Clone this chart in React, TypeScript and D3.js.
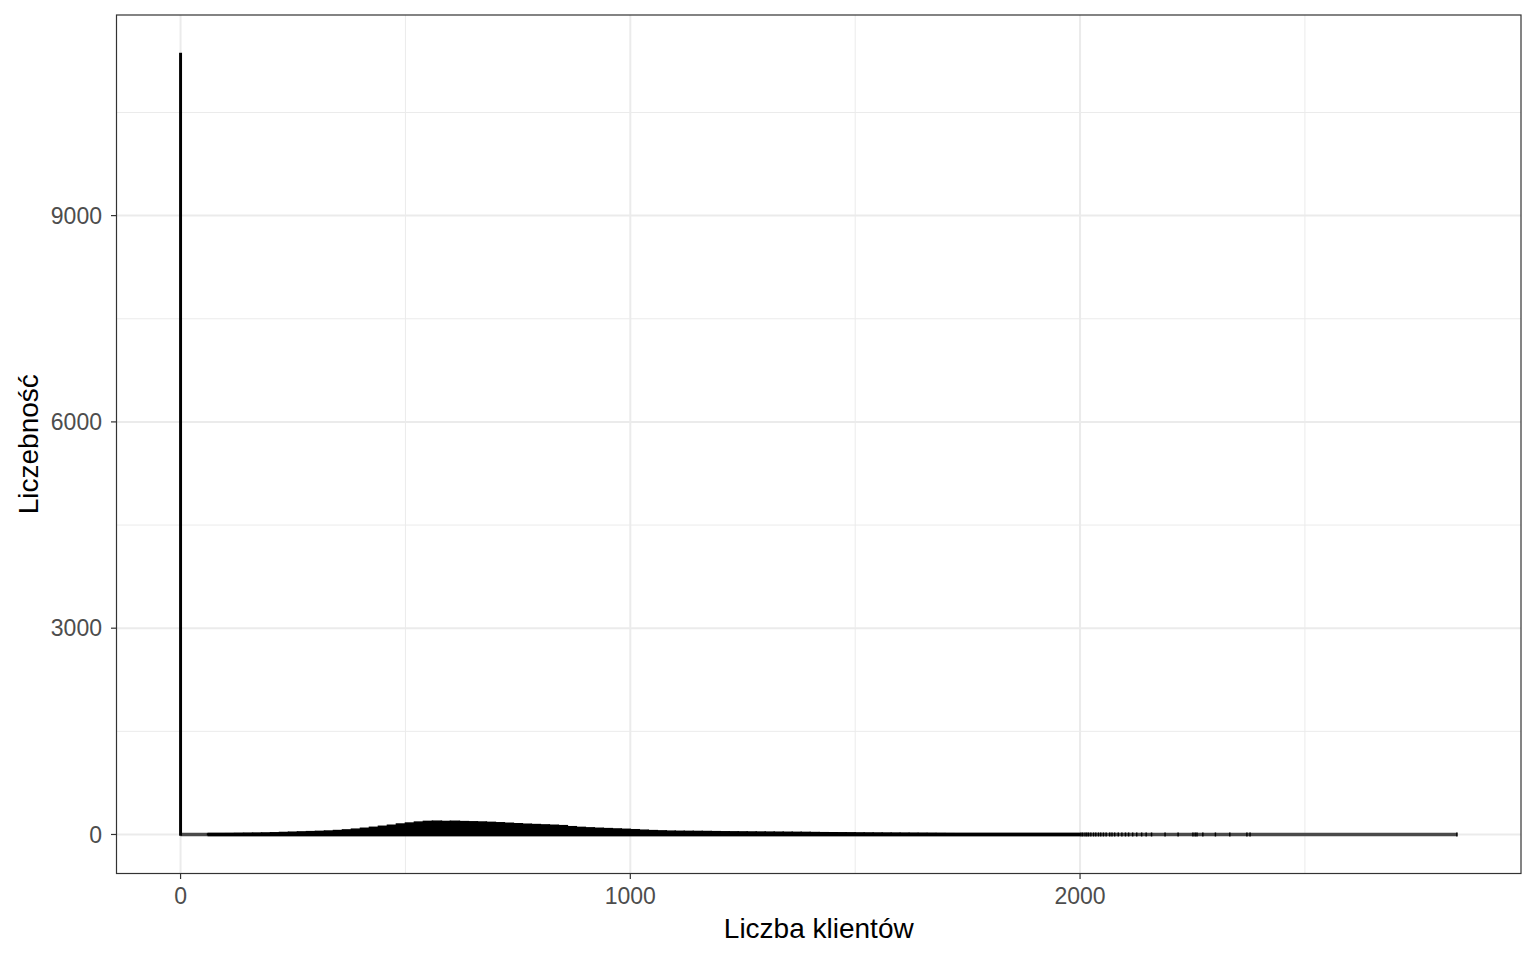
import React from 'react';
import * as d3 from 'd3';

// histogram, 1-unit bins; the dense part is summarised per 20-unit block (count per unit)
const spikeAt = 0;
const spikeCount = 11350;
const blockStart = [
  60, 80, 100, 120, 140, 160, 180, 200, 220, 240, 260, 280, 300, 320, 340, 360, 380, 400, 420, 440,
  460, 480, 500, 520, 540, 560, 580, 600, 620, 640, 660, 680, 700, 720, 740, 760, 780, 800, 820, 840,
  860, 880, 900, 920, 940, 960, 980, 1000, 1020, 1040, 1060, 1080, 1100, 1120, 1140, 1160, 1180, 1200, 1220, 1240,
  1260, 1280, 1300, 1320, 1340, 1360, 1380, 1400, 1420, 1440, 1460, 1480, 1500, 1520, 1540, 1560, 1580, 1600, 1620, 1640,
  1660, 1680, 1700, 1720, 1740, 1760, 1780, 1800, 1820, 1840, 1860, 1880, 1900, 1920, 1940, 1960, 1980,
];
const blockCount = [
  6, 9, 11, 13, 15, 17, 20, 24, 29, 33, 37, 41, 45, 50, 57, 66, 77, 90, 104, 119,
  134, 152, 166, 180, 190, 193, 189, 192, 187, 184, 181, 176, 170, 163, 156, 149, 144, 139, 134, 128,
  113, 103, 96, 90, 85, 80, 75, 69, 62, 56, 52, 48, 46, 45, 44, 43, 41, 39, 38, 37,
  36, 35, 34, 33, 32, 31, 30, 28, 26, 25, 24, 23, 21, 20, 19, 18, 17, 16, 15, 14,
  13, 12, 11, 10, 9, 9, 8, 8, 7, 7, 6, 6, 5, 5, 4, 4, 3,
];
// sparse single bins in the right tail
const tailX = [
  2002, 2006, 2011, 2015, 2019, 2024, 2030, 2035, 2041, 2046, 2052, 2058, 2066, 2071, 2077, 2085,
  2093, 2101, 2108, 2117, 2126, 2137, 2147, 2159, 2189, 2218, 2251, 2256, 2260, 2273, 2301, 2333,
  2371, 2378, 2838,
];
const xTicks = [0, 1000, 2000];
const xMinor = [500, 1500, 2500];
const yTicks = [0, 3000, 6000, 9000];
const yMinor = [1500, 4500, 7500, 10500];

const W = 1536;
const H = 960;
const panel = { left: 116.5, right: 1521, top: 15, bottom: 873.5 };

export default function App() {
  const xMin = -0.5;
  const xMax = 2838.5;
  const xPad = (xMax - xMin) * 0.05;
  const x = d3.scaleLinear().domain([xMin - xPad, xMax + xPad]).range([panel.left, panel.right]);
  const yTop = spikeCount;
  const y = d3.scaleLinear().domain([-yTop * 0.05, yTop * 1.05]).range([panel.bottom, panel.top]);
  const y0 = y(0);
  const font = '"Liberation Sans", Arial, sans-serif';

  return (
    <svg width={W} height={H} style={{ display: 'block', position: 'absolute', left: 0, top: 0 }}>
      <rect x={0} y={0} width={W} height={H} fill="#fff" />
      {/* grid */}
      {xMinor.map(v => (
        <line key={'xm' + v} x1={x(v)} x2={x(v)} y1={panel.top} y2={panel.bottom} stroke="#ebebeb" strokeWidth={1} />
      ))}
      {yMinor.map(v => (
        <line key={'ym' + v} x1={panel.left} x2={panel.right} y1={y(v)} y2={y(v)} stroke="#ebebeb" strokeWidth={1} />
      ))}
      {xTicks.map(v => (
        <line key={'xg' + v} x1={x(v)} x2={x(v)} y1={panel.top} y2={panel.bottom} stroke="#ebebeb" strokeWidth={2} />
      ))}
      {yTicks.map(v => (
        <line key={'yg' + v} x1={panel.left} x2={panel.right} y1={y(v)} y2={y(v)} stroke="#ebebeb" strokeWidth={2} />
      ))}

      {/* zero-count bins outline */}
      <line x1={x(xMin)} x2={x(xMax)} y1={y0} y2={y0} stroke="#4a4a4a" strokeWidth={3.5} />
      <line x1={x(blockStart[0])} x2={x(2000)} y1={y0} y2={y0} stroke="#000" strokeWidth={3.5} />

      {/* bars */}
      {blockStart.map((s, i) => (
        <rect key={'b' + s} x={x(s)} y={y(blockCount[i])} width={x(s + 20) - x(s)} height={y0 - y(blockCount[i])}
          fill="#000" stroke="#000" strokeWidth={1.5} />
      ))}
      {tailX.map(v => (
        <rect key={'t' + v} x={x(v - 0.5) - 0.5} y={y0 - 2} width={x(v + 0.5) - x(v - 0.5) + 1} height={4} fill="#000" />
      ))}
      <rect x={x(spikeAt - 0.5)} y={y(spikeCount)} width={x(spikeAt + 0.5) - x(spikeAt - 0.5)} height={y0 - y(spikeCount)}
        fill="#000" stroke="#000" strokeWidth={2.5} />

      {/* panel border */}
      <rect x={panel.left} y={panel.top} width={panel.right - panel.left} height={panel.bottom - panel.top}
        fill="none" stroke="#333" strokeWidth={1.2} />

      {/* axes */}
      {xTicks.map(v => (
        <g key={'xt' + v}>
          <line x1={x(v)} x2={x(v)} y1={panel.bottom} y2={panel.bottom + 5.5} stroke="#333" strokeWidth={1.2} />
          <text x={x(v)} y={904} textAnchor="middle" fontFamily={font} fontSize={23} fill="#4d4d4d">{v}</text>
        </g>
      ))}
      {yTicks.map(v => (
        <g key={'yt' + v}>
          <line x1={panel.left - 5.5} x2={panel.left} y1={y(v)} y2={y(v)} stroke="#333" strokeWidth={1.2} />
          <text x={102} y={y(v)} dy="0.36em" textAnchor="end" fontFamily={font} fontSize={23} fill="#4d4d4d">{v}</text>
        </g>
      ))}
      <text x={(panel.left + panel.right) / 2} y={938} textAnchor="middle" fontFamily={font} fontSize={28} fill="#000">
        Liczba klientów
      </text>
      <text transform={`translate(38,${(panel.top + panel.bottom) / 2}) rotate(-90)`} textAnchor="middle"
        fontFamily={font} fontSize={28} fill="#000">
        Liczebność
      </text>
    </svg>
  );
}
